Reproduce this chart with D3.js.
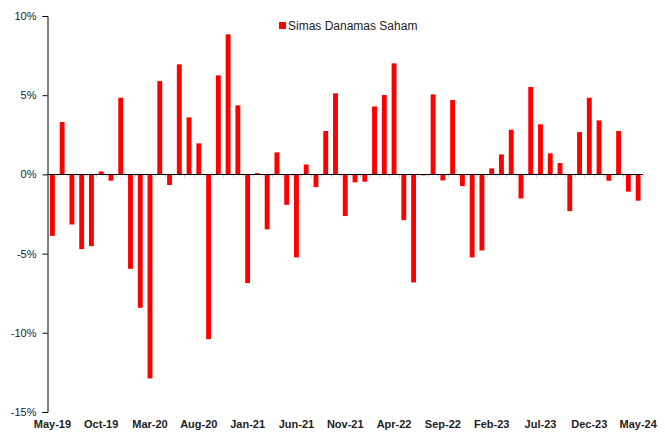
<!DOCTYPE html>
<html>
<head>
<meta charset="utf-8">
<script src="https://cdn.jsdelivr.net/npm/d3@7"></script>
<style>
  html, body { margin: 0; padding: 0; background: #fff; }
  svg { display: block; }
</style>
</head>
<body>
<svg id="chart" width="665" height="434"></svg>
<script>
const months = [
  "May-19","Jun-19","Jul-19","Aug-19","Sep-19","Oct-19","Nov-19","Dec-19",
  "Jan-20","Feb-20","Mar-20","Apr-20","May-20","Jun-20","Jul-20","Aug-20","Sep-20","Oct-20","Nov-20","Dec-20",
  "Jan-21","Feb-21","Mar-21","Apr-21","May-21","Jun-21","Jul-21","Aug-21","Sep-21","Oct-21","Nov-21","Dec-21",
  "Jan-22","Feb-22","Mar-22","Apr-22","May-22","Jun-22","Jul-22","Aug-22","Sep-22","Oct-22","Nov-22","Dec-22",
  "Jan-23","Feb-23","Mar-23","Apr-23","May-23","Jun-23","Jul-23","Aug-23","Sep-23","Oct-23","Nov-23","Dec-23",
  "Jan-24","Feb-24","Mar-24","Apr-24","May-24"
];
const seriesName = "Simas Danamas Saham";
const returns = [
  -3.88, 3.31, -3.16, -4.72, -4.53, 0.19, -0.40, 4.84,
  -5.96, -8.42, -12.88, 5.89, -0.67, 6.95, 3.60, 1.96, -10.40, 6.25, 8.84, 4.36,
  -6.86, 0.08, -3.47, 1.39, -1.92, -5.24, 0.63, -0.80, 2.74, 5.12, -2.63, -0.50,
  -0.46, 4.29, 5.01, 7.01, -2.89, -6.82, -0.06, 5.05, -0.38, 4.70, -0.74, -5.24,
  -4.80, 0.38, 1.26, 2.82, -1.52, 5.52, 3.16, 1.33, 0.72, -2.32, 2.67, 4.84,
  3.41, -0.40, 2.74, -1.09, -1.66
];
const yTicks = [10, 5, 0, -5, -10, -15];
const xTickLabels = ["May-19","Oct-19","Mar-20","Aug-20","Jan-21","Jun-21","Nov-21","Apr-22","Sep-22","Feb-23","Jul-23","Dec-23","May-24"];

(function () {
const svg = d3.select("#chart");
const mLeft = 47.5, mRight = 643, mTop = 16, mBottom = 412;

const x = d3.scaleBand().domain(months).range([mLeft, mRight]).paddingInner(0.5).paddingOuter(0.25);
const y = d3.scaleLinear().domain([-15, 10]).range([mBottom, mTop]);

// bars
svg.append("g").selectAll("rect").data(returns).join("rect")
  .attr("x", (d, i) => x(months[i]))
  .attr("width", x.bandwidth())
  .attr("y", d => y(Math.max(0, d)))
  .attr("height", d => Math.abs(y(d) - y(0)))
  .attr("fill", "#ff0000");

// zero line with minor ticks at category boundaries
const step = x.step();
const boundaries = d3.range(1, months.length + 1).map(i => mLeft + i * step);
svg.append("g").selectAll("line").data(boundaries).join("line")
  .attr("x1", d => Math.round(d) + 0.5).attr("x2", d => Math.round(d) + 0.5)
  .attr("y1", y(0)).attr("y2", y(0) + 3)
  .attr("stroke", "#c8c8c8").attr("stroke-width", 1);
svg.append("line")
  .attr("x1", mLeft).attr("x2", mRight)
  .attr("y1", Math.round(y(0)) + 0.5).attr("y2", Math.round(y(0)) + 0.5)
  .attr("stroke", "#000").attr("stroke-width", 1.2);

// y axis
const yAxis = d3.axisLeft(y).tickValues(yTicks).tickSize(5).tickPadding(6)
  .tickFormat(d => d + "%");
const gy = svg.append("g").attr("transform", `translate(${mLeft},0)`).call(yAxis);
gy.select(".domain").attr("stroke", "#000");
gy.selectAll(".tick line").attr("stroke", "#000");
gy.selectAll("text").attr("font-family", "Liberation Sans, Arial, sans-serif")
  .attr("font-size", "11px").attr("fill", "#222");

// x axis labels at bottom
const xAxis = d3.axisBottom(x).tickValues(xTickLabels).tickSize(0).tickPadding(0);
const gx = svg.append("g").attr("transform", `translate(0,${mBottom})`).call(xAxis);
gx.select(".domain").remove();
gx.selectAll("text").attr("font-family", "Liberation Sans, Arial, sans-serif")
  .attr("font-size", "11px").attr("font-weight", "bold").attr("fill", "#222")
  .attr("dy", "1.45em");

// legend
const lg = svg.append("g");
lg.append("rect").attr("x", 279).attr("y", 22).attr("width", 7).attr("height", 7).attr("fill", "#ff0000");
lg.append("text").attr("x", 288).attr("y", 30)
  .attr("font-family", "Liberation Sans, Arial, sans-serif").attr("font-size", "12px")
  .attr("fill", "#222").text(seriesName);
})();
</script>
</body>
</html>
